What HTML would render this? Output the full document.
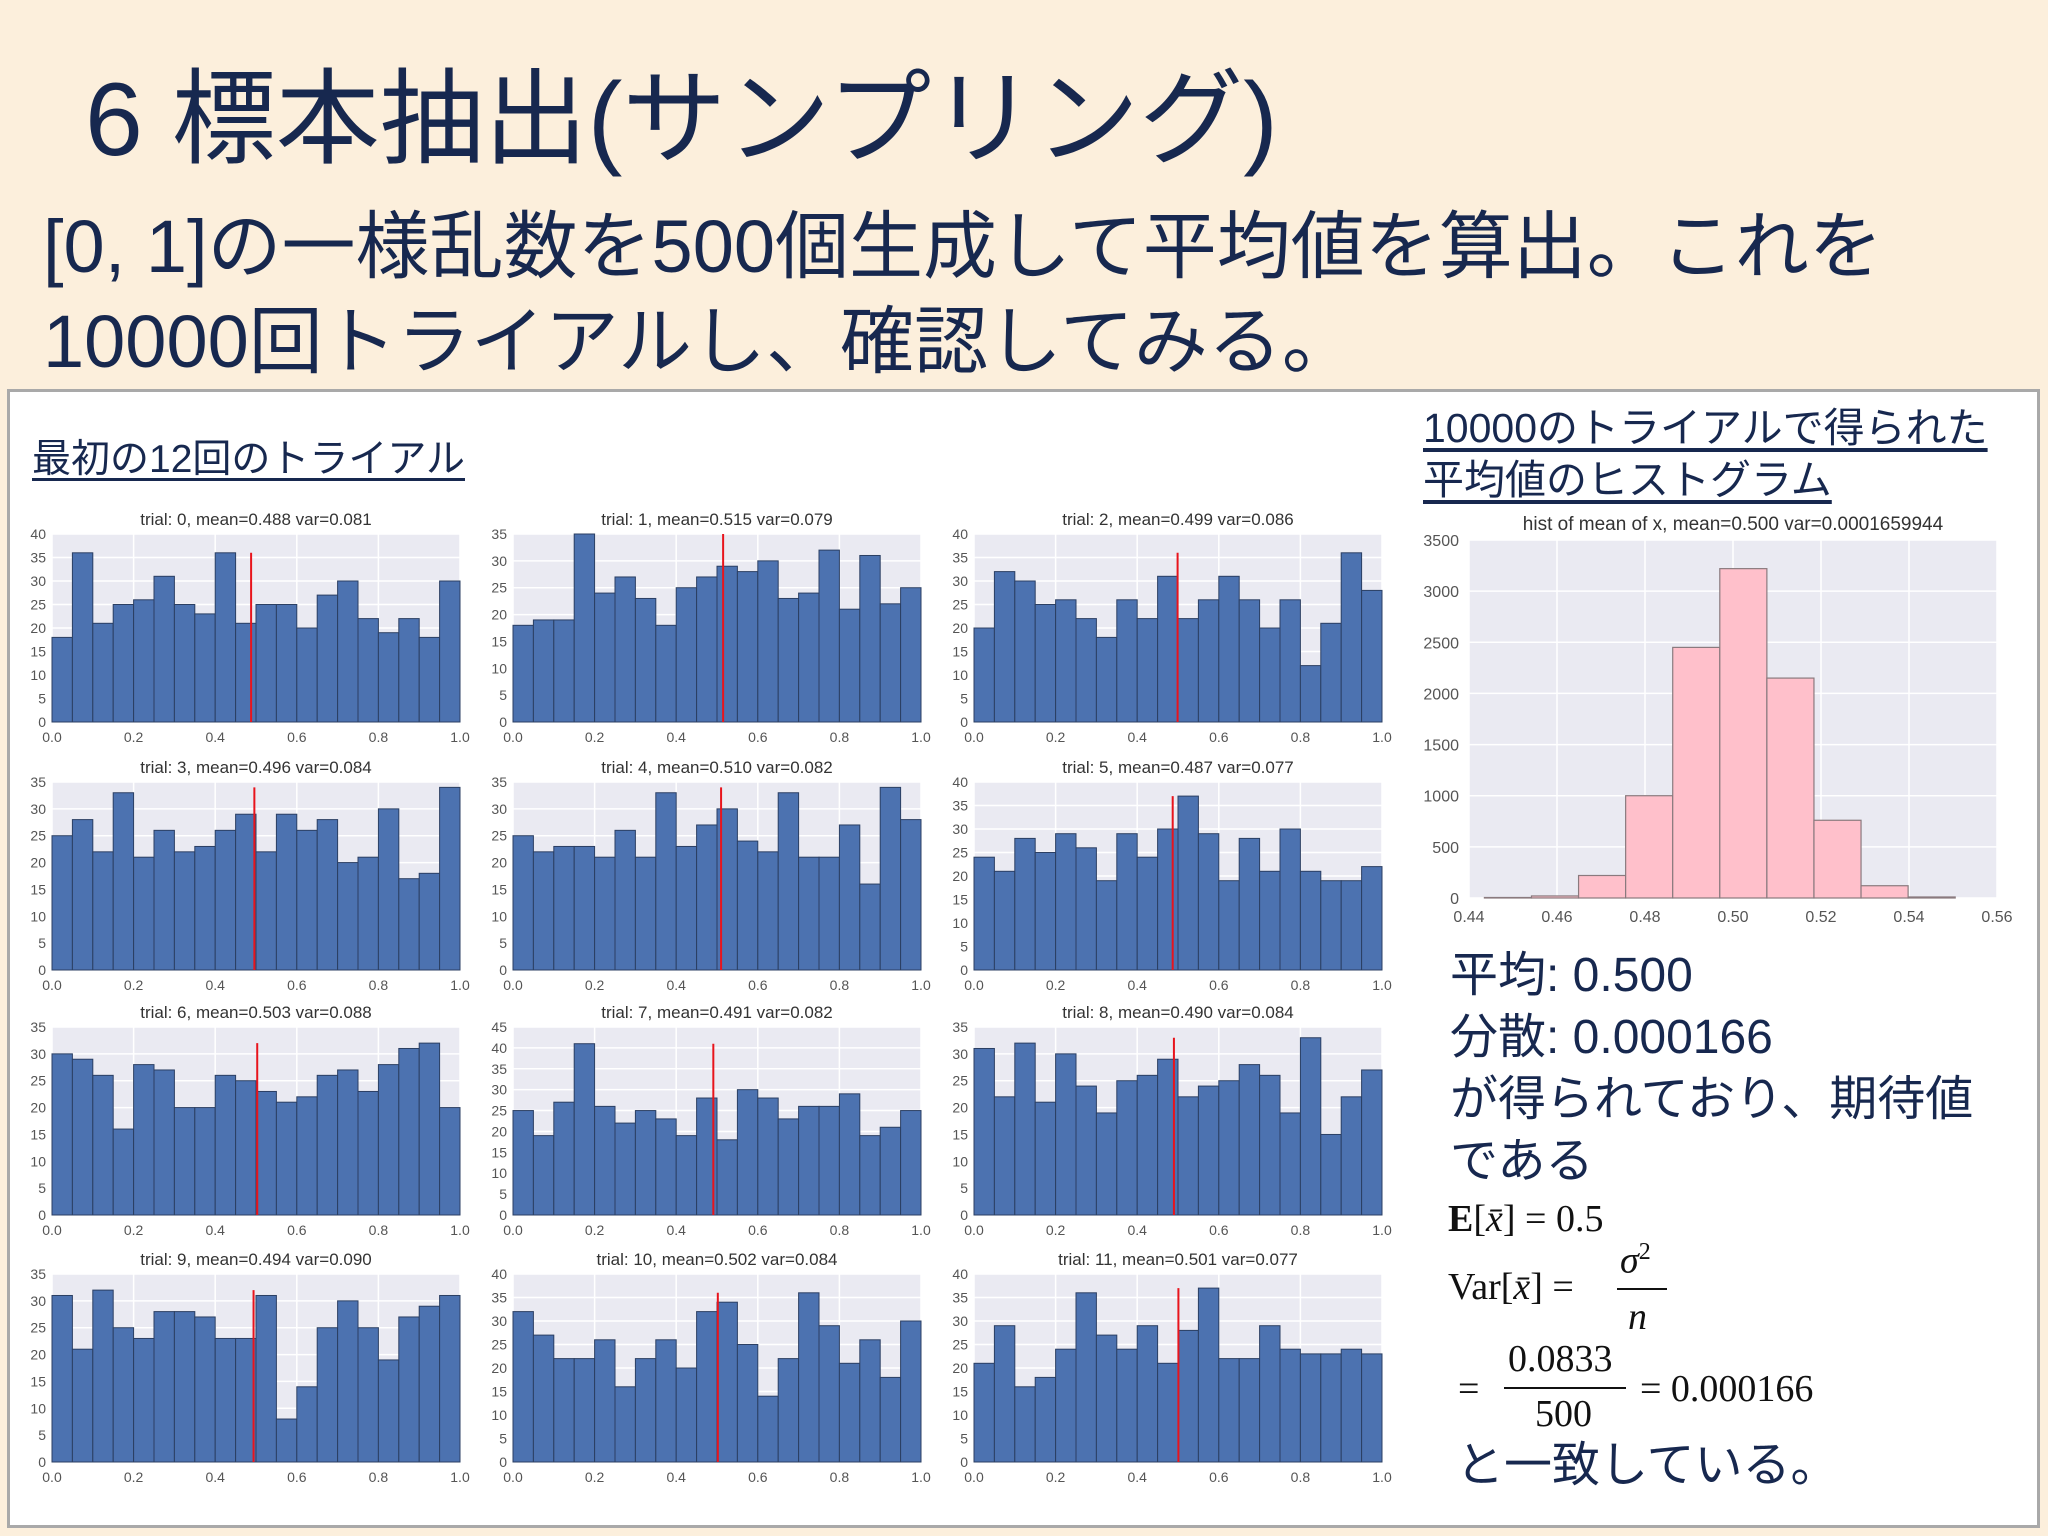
<!DOCTYPE html>
<html><head><meta charset="utf-8">
<style>
body{margin:0;width:2048px;height:1536px;background:#fcefdc;position:relative;overflow:hidden;font-family:"Liberation Sans","Noto Sans CJK JP",sans-serif;color:#17284f}
.t{position:absolute;white-space:nowrap;line-height:1}
.m{font-family:"Liberation Serif","DejaVu Serif",serif;color:#111}
</style></head><body>
<div class="t" style="left:85px;top:68px;font-size:104px">6 標本抽出(サンプリング)</div>
<div class="t" style="left:43px;top:210px;font-size:74px">[0, 1]の一様乱数を500個生成して平均値を算出。これを</div>
<div class="t" style="left:43px;top:305px;font-size:74px">10000回トライアルし、確認してみる。</div>
<div style="position:absolute;left:7px;top:389px;width:2027px;height:1133px;background:#fff;border:3px solid #a9a9a9"></div>
<div class="t" style="left:32px;top:440px;font-size:39px;text-decoration:underline;text-underline-offset:6px">最初の12回のトライアル</div>
<div class="t" style="left:1423px;top:408px;font-size:41px;text-decoration:underline;text-underline-offset:6px">10000のトライアルで得られた</div>
<div class="t" style="left:1423px;top:460px;font-size:41px;text-decoration:underline;text-underline-offset:6px">平均値のヒストグラム</div>
<svg id="chart" width="2048" height="1536" style="position:absolute;left:0;top:0"></svg>
<div class="t" style="left:1450px;top:952px;font-size:48px">平均: 0.500</div>
<div class="t" style="left:1450px;top:1014px;font-size:48px">分散: 0.000166</div>
<div class="t" style="left:1450px;top:1076px;font-size:48px">が得られており、期待値</div>
<div class="t" style="left:1450px;top:1138px;font-size:48px">である</div>
<div class="t m" style="left:1448px;top:1200px;font-size:38px"><b>E</b>[<i>x̄</i>] = 0.5</div>
<div class="t m" style="left:1448px;top:1268px;font-size:38px">Var[<i>x̄</i>] =</div>
<div class="t m" style="left:1620px;top:1240px;font-size:38px"><i>σ</i><sup style="font-size:24px">2</sup></div>
<div style="position:absolute;left:1617px;top:1288px;width:50px;height:2px;background:#111"></div>
<div class="t m" style="left:1628px;top:1298px;font-size:38px"><i>n</i></div>
<div class="t m" style="left:1458px;top:1370px;font-size:38px">=</div>
<div class="t m" style="left:1508px;top:1340px;font-size:38px">0.0833</div>
<div style="position:absolute;left:1504px;top:1387px;width:122px;height:2px;background:#111"></div>
<div class="t m" style="left:1535px;top:1395px;font-size:38px">500</div>
<div class="t m" style="left:1640px;top:1370px;font-size:38px">= 0.000166</div>
<div class="t" style="left:1456px;top:1442px;font-size:48px">と一致している。</div>
<script>
const trialMeans=[0.488,0.515,0.499,0.496,0.510,0.487,0.503,0.491,0.490,0.494,0.502,0.501];
const trialVars=["0.081","0.079","0.086","0.084","0.082","0.077","0.088","0.082","0.084","0.090","0.084","0.077"];
const trialYMax=[40,35,40,35,35,40,35,45,35,35,40,40];
const c0=[18,36,21,25,26,31,25,23,36,21,25,25,20,27,30,22,19,22,18,30];
const c1=[18,19,19,35,24,27,23,18,25,27,29,28,30,23,24,32,21,31,22,25];
const c2=[20,32,30,25,26,22,18,26,22,31,22,26,31,26,20,26,12,21,36,28];
const c3=[25,28,22,33,21,26,22,23,26,29,22,29,26,28,20,21,30,17,18,34];
const c4=[25,22,23,23,21,26,21,33,23,27,30,24,22,33,21,21,27,16,34,28];
const c5=[24,21,28,25,29,26,19,29,24,30,37,29,19,28,21,30,21,19,19,22];
const c6=[30,29,26,16,28,27,20,20,26,25,23,21,22,26,27,23,28,31,32,20];
const c7=[25,19,27,41,26,22,25,23,19,28,18,30,28,23,26,26,29,19,21,25];
const c8=[31,22,32,21,30,24,19,25,26,29,22,24,25,28,26,19,33,15,22,27];
const c9=[31,21,32,25,23,28,28,27,23,23,31,8,14,25,30,25,19,27,29,31];
const c10=[32,27,22,22,26,16,22,26,20,32,34,25,14,22,36,29,21,26,18,30];
const c11=[21,29,16,18,24,36,27,24,29,21,28,37,22,22,29,24,23,23,24,23];
const trialCounts=[c0,c1,c2,c3,c4,c5,c6,c7,c8,c9,c10,c11];
const smallXTicks=["0.0","0.2","0.4","0.6","0.8","1.0"];
const meanHistCounts=[5,20,220,1000,2450,3220,2150,760,120,10];
const meanHistStart=0.4435, meanHistWidth=0.0107;
const meanXTicks=["0.44","0.46","0.48","0.50","0.52","0.54","0.56"];
const meanYTicks=[0,500,1000,1500,2000,2500,3000,3500];

const svg=document.getElementById('chart');
const NS='http://www.w3.org/2000/svg';
function mk(tag,a,parent){const e=document.createElementNS(NS,tag);for(const k in a)e.setAttribute(k,a[k]);(parent||svg).appendChild(e);return e;}
function txt(x,y,s,size,anchor,parent){const t=mk('text',{x:x,y:y,'font-size':size,'text-anchor':anchor,fill:'#555','font-family':'Liberation Sans, sans-serif'},parent);t.textContent=s;return t;}

const colX=[52,513,974], rowY=[534,782,1027,1274], W=408, H=188;
trialCounts.forEach((counts,i)=>{
  const L=colX[i%3], T=rowY[Math.floor(i/3)], ymax=trialYMax[i];
  const g=mk('g',{});
  
  
  const xs=v=>L+v*W, ys=v=>T+H-v/ymax*H;
  const bg=mk('rect',{x:L,y:T,width:W,height:H,fill:'#eaeaf2'},g);
  
  
  for(let k=0;k<=5;k++){mk('line',{x1:xs(k*0.2),x2:xs(k*0.2),y1:T,y2:T+H,stroke:'#fff','stroke-width':1.5},g);}
  for(let v=0;v<=ymax;v+=5){mk('line',{x1:L,x2:L+W,y1:ys(v),y2:ys(v),stroke:'#fff','stroke-width':1.5},g);
    const tl=txt(L-6,ys(v)+5,String(v),14,'end',g);
    
    }
  smallXTicks.forEach((s,k)=>{const tl=txt(xs(k*0.2),T+H+20,s,14,'middle',g);
    
    });
  counts.forEach((c,b)=>{const r=mk('rect',{x:xs(b/20),y:ys(c),width:W/20,height:ys(0)-ys(c),fill:'#4c72b0',stroke:'#2b3f63','stroke-width':1},g);
    
    });
  const mx=Math.max(...counts);
  const ml=mk('line',{x1:xs(trialMeans[i]),x2:xs(trialMeans[i]),y1:ys(0),y2:ys(mx),stroke:'#e8141c','stroke-width':2},g);
  
  
  const tt=txt(L+W/2,T-9,'trial: '+i+', mean='+trialMeans[i].toFixed(3)+' var='+trialVars[i],17,'middle',g);
  tt.setAttribute('fill','#333');
  
  
});

(function(){
  const L=1469,T=540,W=528,H=358,x0=0.44,x1=0.56,ymax=3500;
  const g=mk('g',{});
  
  
  const xs=v=>L+(v-x0)/(x1-x0)*W, ys=v=>T+H-v/ymax*H;
  mk('rect',{x:L,y:T,width:W,height:H,fill:'#eaeaf2'},g);
  meanXTicks.forEach(s=>{const v=parseFloat(s);mk('line',{x1:xs(v),x2:xs(v),y1:T,y2:T+H,stroke:'#fff','stroke-width':1.5},g);
    const tl=txt(xs(v),T+H+24,s,16,'middle',g);
    
    });
  meanYTicks.forEach(v=>{mk('line',{x1:L,x2:L+W,y1:ys(v),y2:ys(v),stroke:'#fff','stroke-width':1.5},g);
    const tl=txt(L-10,ys(v)+6,String(v),16,'end',g);
    
    });
  meanHistCounts.forEach((c,b)=>{const a=meanHistStart+b*meanHistWidth;
    const r=mk('rect',{x:xs(a),y:ys(c),width:xs(a+meanHistWidth)-xs(a),height:ys(0)-ys(c),fill:'#ffc0cb',stroke:'#8a7a7e','stroke-width':1.2},g);
    
    });
  const tt=txt(L+W/2,T-10,'hist of mean of x, mean=0.500 var=0.0001659944',19,'middle',g);
  tt.setAttribute('fill','#333');
  
  
})();
</script>
</body></html>
